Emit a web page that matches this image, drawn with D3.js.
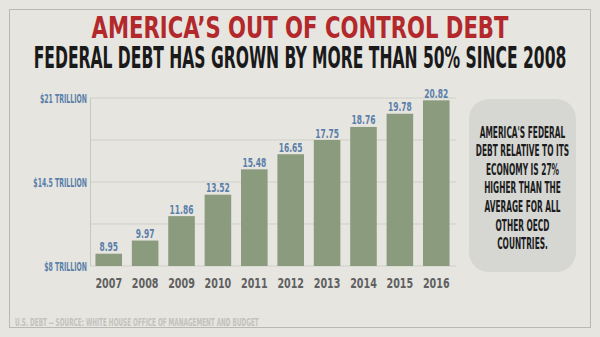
<!DOCTYPE html>
<html>
<head>
<meta charset="utf-8">
<script src="https://cdn.jsdelivr.net/npm/d3@7"></script>
<style>
  html, body { margin: 0; padding: 0; background: #e6e5e0; }
  svg { display: block; }
  text { font-family: "DejaVu Sans Condensed", "Liberation Sans Narrow", sans-serif; font-weight: bold; }
</style>
</head>
<body>
<div id="chart"></div>
<script>
// data
const years = ["2007", "2008", "2009", "2010", "2011", "2012", "2013", "2014", "2015", "2016"];
const debt = [8.95, 9.97, 11.86, 13.52, 15.48, 16.65, 17.75, 18.76, 19.78, 20.82];
const gridValues = [8, 11.25, 14.5, 17.75, 21];
const tickValues = [8, 14.5, 21];
const tickLabels = ["$8 TRILLION", "$14.5 TRILLION", "$21 TRILLION"];
const infoLines = ["AMERICA'S FEDERAL", "DEBT RELATIVE TO ITS", "ECONOMY IS 27%", "HIGHER THAN THE",
    "AVERAGE FOR ALL", "OTHER OECD", "COUNTRIES."];

const W = 600, H = 337;

const svg = d3.select("#chart")
    .append("svg")
    .attr("width", W)
    .attr("height", H);

// squeeze text horizontally (installed fonts are wider than the original condensed face)
function squeeze(sel, k) {
    sel.each(function() {
        const t = d3.select(this);
        const tx = +t.attr("x"), ty = +t.attr("y");
        t.attr("x", 0).attr("y", 0)
            .attr("transform", "translate(" + tx + "," + ty + ") scale(" + k + ",1)");
    });
}
function fit(sel, w) {
    sel.each(function() {
        const k = w / this.getComputedTextLength();
        d3.select(this).call(squeeze, k);
    });
}

//outer frame
svg.append("rect")
    .attr("x", 9.5).attr("y", 9.5)
    .attr("width", 581).attr("height", 318)
    .attr("fill", "none")
    .attr("stroke", "#b9b9b4")
    .attr("stroke-width", 1);

//titles
svg.append("text")
    .attr("x", 300).attr("y", 38)
    .attr("text-anchor", "middle")
    .style("font-size", "31px")
    .attr("fill", "#b3282b")
    .text("AMERICA\u2019S OUT OF CONTROL DEBT")
    .call(fit, 417);

svg.append("text")
    .attr("x", 300).attr("y", 67.5)
    .attr("text-anchor", "middle")
    .style("font-size", "30px")
    .attr("fill", "#1a1a1a")
    .text("FEDERAL DEBT HAS GROWN BY MORE THAN 50% SINCE 2008")
    .call(fit, 533);

//scales
const x = d3.scaleBand().domain(years).range([90, 455]).paddingInner(0.27).paddingOuter(0.15);
const y = d3.scaleLinear().domain([8, 21]).range([266, 98]);

//gridlines
svg.append("g")
    .selectAll("line")
    .data(gridValues)
    .enter()
    .append("line")
    .attr("x1", 90).attr("x2", 456)
    .attr("y1", d => y(d)).attr("y2", d => y(d))
    .attr("stroke", "#cfcfca")
    .attr("stroke-width", 1);

//y axis line
svg.append("line")
    .attr("x1", 90.5).attr("x2", 90.5)
    .attr("y1", y(21)).attr("y2", y(8))
    .attr("stroke", "#c8c8c3");

//y labels
svg.append("g")
    .selectAll("text")
    .data(tickValues)
    .enter()
    .append("text")
    .attr("x", 87)
    .attr("y", d => y(d) + 4.5)
    .attr("text-anchor", "end")
    .style("font-size", "13px")
    .attr("fill", "#5a7fa9")
    .text((d, i) => tickLabels[i])
    .call(squeeze, 0.53);

//bars
svg.append("g")
    .selectAll("rect")
    .data(debt)
    .enter()
    .append("rect")
    .attr("x", (d, i) => x(years[i]))
    .attr("y", d => y(d))
    .attr("width", x.bandwidth())
    .attr("height", d => y(8) - y(d))
    .attr("fill", "#8b9b7e");

//value labels
svg.append("g")
    .selectAll("text")
    .data(debt)
    .enter()
    .append("text")
    .attr("x", (d, i) => x(years[i]) + x.bandwidth() / 2)
    .attr("y", d => y(d) - 2.5)
    .attr("text-anchor", "middle")
    .style("font-size", "12.5px")
    .attr("fill", "#5a7fa9")
    .text(d => d3.format(".2f")(d))
    .call(squeeze, 0.67);

//year labels
svg.append("g")
    .selectAll("text")
    .data(years)
    .enter()
    .append("text")
    .attr("x", d => x(d) + x.bandwidth() / 2)
    .attr("y", 288)
    .attr("text-anchor", "middle")
    .style("font-size", "14px")
    .attr("fill", "#606060")
    .text(d => d)
    .call(squeeze, 0.76);

//info box
svg.append("rect")
    .attr("x", 469).attr("y", 99)
    .attr("width", 107).attr("height", 173)
    .attr("rx", 20).attr("ry", 20)
    .attr("fill", "#d6d6d3");

svg.append("g")
    .selectAll("text")
    .data(infoLines)
    .enter()
    .append("text")
    .attr("x", 522.5)
    .attr("y", (d, i) => 137.5 + i * 18.6)
    .attr("text-anchor", "middle")
    .style("font-size", "15px")
    .attr("fill", "#1c1c1c")
    .text(d => d)
    .call(squeeze, 0.55);

//source line
svg.append("text")
    .attr("x", 15).attr("y", 326)
    .style("font-size", "11px")
    .attr("fill", "#c2c2bd")
    .text("U.S. DEBT -- SOURCE: WHITE HOUSE OFFICE OF MANAGEMENT AND BUDGET")
    .call(fit, 244);
</script>
</body>
</html>
